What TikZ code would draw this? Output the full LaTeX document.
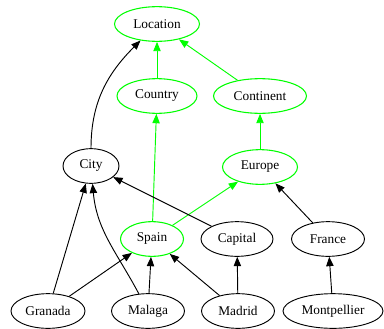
\documentclass[tikz,border=0pt]{standalone}
\usepackage{fontspec}
\setmainfont{Liberation Serif}
\usepackage{tikz}
\usetikzlibrary{shapes.geometric, arrows.meta}
\definecolor{green}{rgb}{0,1,0}

\begin{document}
\begin{tikzpicture}[x=0.75pt, y=-0.75pt,
	concept/.style={ellipse, draw=green, line width=0.8pt, inner sep=0pt, minimum height=26pt},
	thing/.style={ellipse, draw=black, line width=0.7pt, inner sep=0pt, minimum height=26pt},
	isa/.style={line width=0.7pt, -{Triangle[length=7pt, width=5.5pt]}}]
	\useasboundingbox (0,0) rectangle (384,328);
	% classes (green)
	\foreach \name/\x/\y/\w/\txt in {location/157/24/85/Location, country/157/96/80/Country,
		continent/260/96/93/Continent, europe/260/167/75/Europe, spain/152/239/63/Spain}{
		\node[concept, minimum width=\w*0.75pt] (\name) at (\x,\y) {\txt};
	}
	% the rest (black)
	\foreach \name/\x/\y/\w/\txt in {city/91/166/56/City, capital/237/239/72/Capital,
		france/328/239/73/France, granada/48/311/74/Granada, malaga/148/311/73/Malaga,
		madrid/238/311/73/Madrid, montpellier/333/311/100/Montpellier}{
		\node[thing, minimum width=\w*0.75pt] (\name) at (\x,\y) {\txt};
	}
	\draw[isa, green] (country) -- (location);
	\draw[isa, green] (continent) -- (location);
	\draw[isa, green] (spain) -- (country);
	\draw[isa, green] (europe) -- (continent);
	\draw[isa, green] (spain) -- (europe);
	\draw[isa] (city) to[out=90, in=225] (location);
	\draw[isa] (capital) -- (city);
	\draw[isa] (france) -- (europe);
	\draw[isa] (granada) -- (city);
	\draw[isa] (malaga) to[out=118, in=-85] (city);
	\draw[isa] (granada) -- (spain);
	\draw[isa] (malaga) -- (spain);
	\draw[isa] (madrid) -- (spain);
	\draw[isa] (madrid) -- (capital);
	\draw[isa] (montpellier) -- (france);
\end{tikzpicture}
\end{document}
